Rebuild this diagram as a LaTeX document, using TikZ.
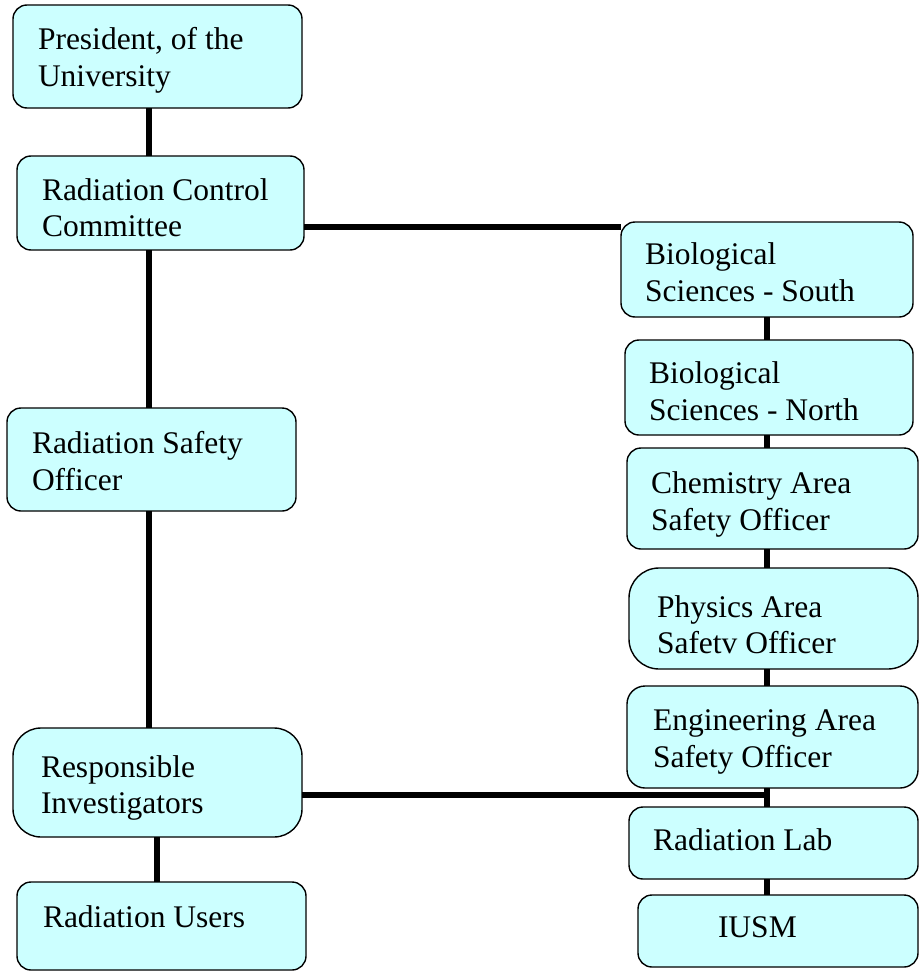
\documentclass[tikz,border=0pt]{standalone}
\usepackage{fontspec}
\setmainfont{Liberation Serif}
\definecolor{boxfill}{RGB}{204,255,255}
\tikzset{
  orgbox/.style={draw=black, line width=1.4pt, fill=boxfill, inner sep=0pt, outer sep=0pt},
  txt/.style={inner sep=0pt, outer sep=0pt, anchor=base west, font=\fontsize{31.5}{36.5}\selectfont},
  conn/.style={draw=black, line width=5.5pt}
}
% \obox{name}{x1}{y1}{x2}{y2}{radius}
\newcommand{\obox}[6]{%
  \node[orgbox, rounded corners=#6pt, minimum width={(#4-#2)*1pt}, minimum height={(#5-#3)*1pt}]
    (#1) at ({(#2+#4)/2},{(#3+#5)/2}) {};}
\begin{document}
\begin{tikzpicture}[x=1pt,y=-1pt]
\useasboundingbox (0,0) rectangle (919,974);
\coordinate (lx) at (149,0);
\coordinate (ux) at (157,0);
\coordinate (rx) at (767,0);
\coordinate (hy) at (0,795);
\coordinate (ty) at (0,227);
% connectors (drawn first, under the boxes)
\obox{pres}{13}{5}{302}{108}{14}
\obox{rcc}{17}{156}{304}{250}{14}
\obox{rso}{7}{408}{296}{511}{14}
\obox{ri}{13}{728}{302}{837}{28}
\obox{ru}{17}{882}{306}{970}{14}
\obox{bs}{621}{222}{913}{317}{14}
\obox{bn}{625}{340}{913}{435}{14}
\obox{chem}{627}{448}{918}{549}{14}
\obox{phys}{629}{568}{918}{669}{30}
\obox{eng}{627}{686}{918}{788}{18}
\obox{rlab}{629}{807}{918}{879}{14}
\obox{iusm}{638}{895}{918}{967}{14}
\begin{scope}[on background layer/.style={}]
\end{scope}
% connectors
\draw[conn] (pres.south -| lx) -- (rcc.north -| lx);
\draw[conn] (rcc.south -| lx) -- (rso.north -| lx);
\draw[conn] (rso.south -| lx) -- (ri.north -| lx);
\draw[conn] (ri.south -| ux) -- (ru.north -| ux);
\draw[conn] (rcc.east |- ty) -- (bs.west |- ty);
\draw[conn] (bs.south -| rx) -- (bn.north -| rx);
\draw[conn] (bn.south -| rx) -- (chem.north -| rx);
\draw[conn] (chem.south -| rx) -- (phys.north -| rx);
\draw[conn] (phys.south -| rx) -- (eng.north -| rx);
\draw[conn] (eng.south -| rx) -- (rlab.north -| rx);
\draw[conn] (rlab.south -| rx) -- (iusm.north -| rx);
\draw[conn] (ri.east |- hy) -- (rx |- hy);
% texts
\node[txt] (pres-a) at (38,50) {President, of the};
\node[txt] (pres-b) at (38,86) {University};
\node[txt] (rcc-a) at (42,200) {Radiation Control};
\node[txt] (rcc-b) at (42,236) {Committee};
\node[txt] (rso-a) at (32,453) {Radiation Safety};
\node[txt] (rso-b) at (32,490) {Officer};
\node[txt] (ri-a) at (41,777) {Responsible};
\node[txt] (ri-b) at (41,813) {Investigators};
\node[txt] (ru-a) at (43,927) {Radiation Users};
\node[txt] (bs-a) at (645,264) {Biological};
\node[txt] (bs-b) at (645,301) {Sciences - South};
\node[txt] (bn-a) at (649,383) {Biological};
\node[txt] (bn-b) at (649,420) {Sciences - North};
\node[txt] (chem-a) at (651,493) {Chemistry Area};
\node[txt] (chem-b) at (651,530) {Safety Officer};
\node[txt] (phys-a) at (657,617) {Physics Area};
\node[txt] (phys-b) at (657,653) {Safetv Officer};
\node[txt] (eng-a) at (653,730) {Engineering Area};
\node[txt] (eng-b) at (653,767) {Safety Officer};
\node[txt] (rlab-a) at (653,850) {Radiation Lab};
\node[txt] (iusm-a) at (718,937) {IUSM};
\end{tikzpicture}
\end{document}
